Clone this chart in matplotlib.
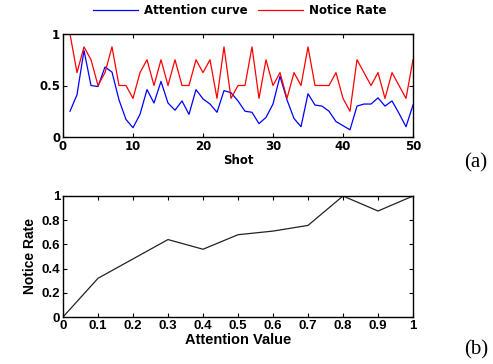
import matplotlib
matplotlib.use("Agg")
import matplotlib.pyplot as plt
import numpy as np

shots = list(range(1, 51))
attention = [0.25, 0.41, 0.84, 0.50, 0.49, 0.68, 0.63, 0.36, 0.17, 0.09,
             0.22, 0.46, 0.33, 0.54, 0.33, 0.26, 0.35, 0.22, 0.46, 0.37,
             0.32, 0.24, 0.45, 0.43, 0.35, 0.25, 0.24, 0.13, 0.19, 0.32,
             0.59, 0.36, 0.18, 0.10, 0.42, 0.31, 0.30, 0.25, 0.15, 0.11,
             0.07, 0.30, 0.32, 0.32, 0.38, 0.30, 0.35, 0.23, 0.10, 0.31]
notice = [1.0, 0.625, 0.875, 0.75, 0.5, 0.625, 0.875, 0.5, 0.5, 0.375,
          0.625, 0.75, 0.5, 0.75, 0.5, 0.75, 0.5, 0.5, 0.75, 0.625,
          0.75, 0.375, 0.875, 0.375, 0.5, 0.5, 0.875, 0.375, 0.75, 0.5,
          0.625, 0.375, 0.625, 0.5, 0.875, 0.5, 0.5, 0.5, 0.625, 0.375,
          0.25, 0.75, 0.625, 0.5, 0.625, 0.375, 0.625, 0.5, 0.375, 0.75]

att_values = [0, 0.1, 0.2, 0.3, 0.4, 0.5, 0.6, 0.7, 0.8, 0.9, 1.0]
notice_rate = [0, 0.32, 0.48, 0.64, 0.56, 0.68, 0.71, 0.757, 1.0, 0.876, 1.0]

W, H = 493, 364
fig = plt.figure(figsize=(W / 100, H / 100), dpi=100)

def rect(l, t, r, b):
    return [l / W, 1 - b / H, (r - l) / W, (b - t) / H]

wide = ["DejaVu Sans"]
narrow = ["Liberation Sans Narrow", "Liberation Sans", "DejaVu Sans"]

ax1 = fig.add_axes(rect(63, 34, 413, 137))
l1, = ax1.plot(shots, attention, color="#0000ff", lw=0.9)
l2, = ax1.plot(shots, notice, color="#ff0000", lw=0.9)
ax1.set_xlim(0, 50)
ax1.set_ylim(0, 1)
ax1.set_xticks([0, 10, 20, 30, 40, 50])
ax1.set_yticks([0, 0.5, 1])
ax1.set_yticklabels(["0", "0.5", "1"])
ax1.tick_params(direction="in", top=True, right=True, length=3, width=0.8, pad=2)
for lab in ax1.get_xticklabels() + ax1.get_yticklabels():
    lab.set_fontfamily(wide)
    lab.set_fontweight("bold")
    lab.set_fontsize(8.5)
ax1.set_xlabel("Shot", fontfamily=wide, fontweight="bold", fontsize=8.5, labelpad=1)
for s in ax1.spines.values():
    s.set_linewidth(1.0)
fig.legend([l1, l2], ["Attention curve", "Notice Rate"], loc="center",
           bbox_to_anchor=(240 / W, 1 - 11 / H), ncol=2, frameon=False,
           prop={"family": wide, "weight": "bold", "size": 8.5},
           handlelength=3.8, columnspacing=0.9, handletextpad=0.5)

ax2 = fig.add_axes(rect(63, 196, 413, 317))
ax2.plot(att_values, notice_rate, color="#222222", lw=0.9)
ax2.set_xlim(0, 1)
ax2.set_ylim(0, 1)
ax2.set_xticks(att_values)
ax2.set_xticklabels(["0", "0.1", "0.2", "0.3", "0.4", "0.5", "0.6", "0.7", "0.8", "0.9", "1"])
ax2.set_yticks([0, 0.2, 0.4, 0.6, 0.8, 1.0])
ax2.set_yticklabels(["0", "0.2", "0.4", "0.6", "0.8", "1"])
ax2.tick_params(direction="in", top=True, right=True, length=3, width=0.8, pad=2)
for lab in ax2.get_xticklabels() + ax2.get_yticklabels():
    lab.set_fontfamily(narrow)
    lab.set_fontweight("bold")
    lab.set_fontsize(9.5)
ax2.set_xlabel("Attention Value", fontfamily=narrow, fontweight="bold", fontsize=10.5, labelpad=1)
ax2.set_ylabel("Notice Rate", fontfamily=narrow, fontweight="bold", fontsize=10, labelpad=3)
for s in ax2.spines.values():
    s.set_linewidth(1.0)

serif = ["Liberation Serif", "DejaVu Serif"]
fig.text(476 / W, 1 - 163 / H, "(a)", fontfamily=serif, fontsize=15, ha="center", va="center")
fig.text(476 / W, 1 - 350 / H, "(b)", fontfamily=serif, fontsize=15, ha="center", va="center")

fig.savefig("out.png", dpi=100)
